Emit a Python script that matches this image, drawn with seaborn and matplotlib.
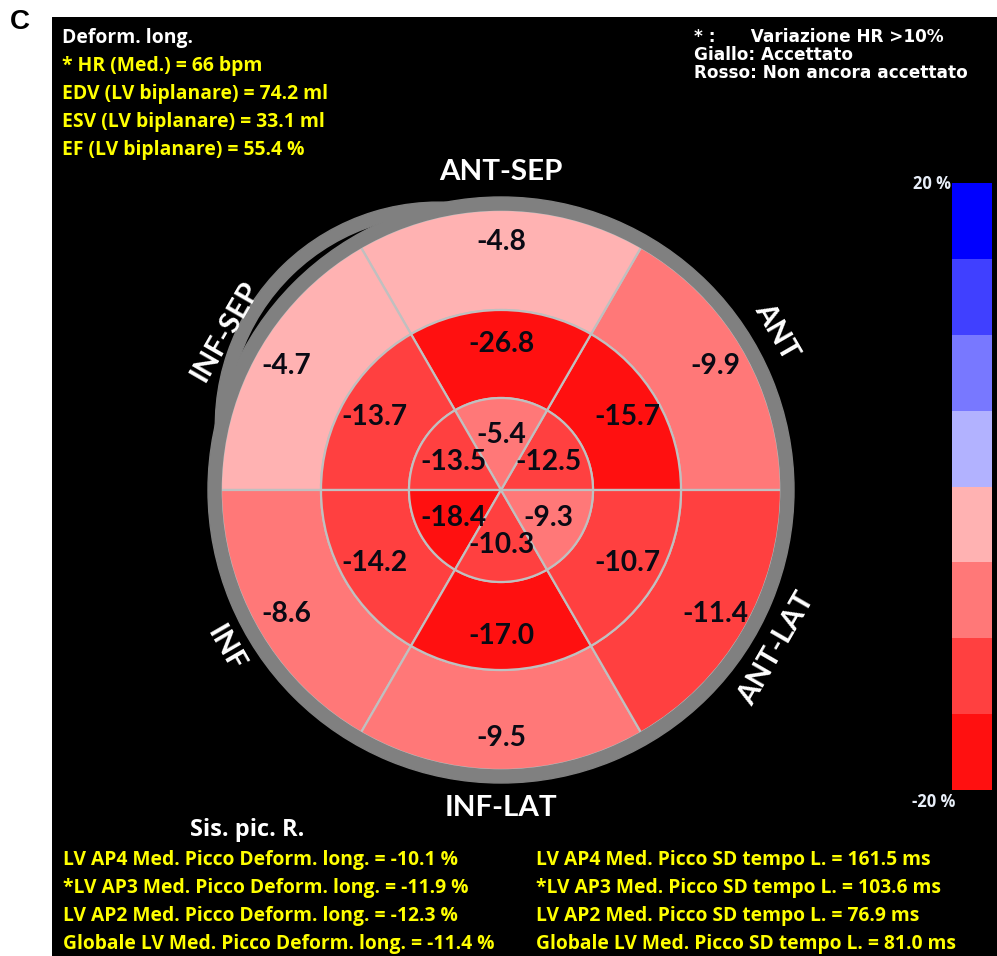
import numpy as np
import matplotlib.pyplot as plt
import seaborn as sns
from matplotlib.colors import ListedColormap, BoundaryNorm
from matplotlib.patches import Wedge

sns.set_theme(style="white")
plt.rcParams["font.family"] = ["Open Sans", "DejaVu Sans"]

# segment order: counter-clockwise starting at 3 o'clock
regions = ["ANT", "ANT-SEP", "INF-SEP", "INF", "INF-LAT", "ANT-LAT"]
basal = [-9.9, -4.8, -4.7, -8.6, -9.5, -11.4]
mid = [-15.7, -26.8, -13.7, -14.2, -17.0, -10.7]
apical = [-12.5, -5.4, -13.5, -18.4, -10.3, -9.3]

# strain colour scale (-20 % .. 20 %)
levels = [-20, -15, -10, -5, 0, 5, 10, 15, 20]
level_colors = ["#ff1010", "#ff4040", "#ff7878", "#ffb2b2",
                "#b2b2ff", "#7878ff", "#4040ff", "#0000ff"]

header = ["* HR (Med.) = 66 bpm", "EDV (LV biplanare) = 74.2 ml",
          "ESV (LV biplanare) = 33.1 ml", "EF (LV biplanare) = 55.4 %"]
legend_lines = ["* :      Variazione HR >10%", "Giallo: Accettato",
                "Rosso: Non ancora accettato"]
peak_strain = ["LV AP4 Med. Picco Deform. long. = -10.1 %",
               "*LV AP3 Med. Picco Deform. long. = -11.9 %",
               "LV AP2 Med. Picco Deform. long. = -12.3 %",
               "Globale LV Med. Picco Deform. long. = -11.4 %"]
peak_time = ["LV AP4 Med. Picco SD tempo L. = 161.5 ms",
             "*LV AP3 Med. Picco SD tempo L. = 103.6 ms",
             "LV AP2 Med. Picco SD tempo L. = 76.9 ms",
             "Globale LV Med. Picco SD tempo L. = 81.0 ms"]

cmap = ListedColormap(level_colors)
norm = BoundaryNorm(levels, cmap.N)

W, H = 997, 956
fig = plt.figure(figsize=(W / 100, H / 100), dpi=100)
fig.patch.set_facecolor("white")
renderer = fig.canvas.get_renderer()


def fit_size(s, width_px, **kw):
    # font size that makes text s about width_px pixels wide
    t = fig.text(0, 0, s, fontsize=10, **kw)
    w = t.get_window_extent(renderer).width
    t.remove()
    return 10 * width_px / w


# black panel, data units = pixels (y measured upward)
ax = fig.add_axes([52 / W, 0, (W - 52) / W, (H - 17) / H])
ax.set_facecolor("black")
ax.axis("off")
ax.add_patch(plt.Rectangle((52, 0), W - 52, H - 17, color="black", zorder=0))


def Y(py):
    return H - py


cx, cy = 501, Y(490)
ring_r = [280, 180, 92]
values = [basal, mid, apical]
grid = "#c0c0c0"

# gray outline crescent (upper left) and outer ring
ax.add_patch(Wedge((438.8, Y(425.6)), 223.5, 80, 188, width=13, color="#808080", zorder=1))
for r_out, r_in, vals in zip(ring_r, ring_r[1:] + [0], values):
    cols = [cmap(norm(max(min(v, 19.9), -19.9))) for v in vals]
    wedges, _ = ax.pie([1] * 6, radius=r_out, center=(cx, cy), colors=cols,
                       startangle=0, counterclock=True,
                       wedgeprops=dict(width=r_out - r_in, edgecolor=grid, linewidth=1.6))
    for w in wedges:
        w.set_zorder(2)
ax.add_patch(Wedge((cx, cy), 293, 0, 360, width=13, color="#808080", zorder=3))

ax.set_xlim(52, W)
ax.set_ylim(0, H - 17)
ax.set_aspect("auto")

mid_angles = np.deg2rad(np.arange(6) * 60 + 30)
label_r = [248, 146, 55]
val_kw = dict(family=["Lato", "DejaVu Sans"], fontweight="bold")
val_size = fit_size("-26.8", 66, **val_kw)
for r, vals in zip(label_r, values):
    for a, v in zip(mid_angles, vals):
        ax.text(cx + r * np.cos(a), cy + r * np.sin(a), f"{v:.1f}",
                ha="center", va="center", fontsize=val_size, color="#0a0a14",
                zorder=5, **val_kw)

reg_size = fit_size("ANT-SEP", 123, **val_kw)
for a, name in zip(mid_angles, regions):
    deg = np.rad2deg(a)
    rot = deg - 90 if np.sin(a) > 0 else deg + 90
    if abs(np.cos(a)) < 1e-6:
        rot = 0
    ax.text(cx + 318 * np.cos(a), cy + 318 * np.sin(a), name, ha="center", va="center",
            rotation=rot, rotation_mode="anchor", fontsize=reg_size, color="white",
            zorder=5, **val_kw)

# header text
hdr_size = fit_size(header[1], 267, fontweight="bold")
ax.text(62, Y(38), "Deform. long.", fontsize=hdr_size, fontweight="bold", color="white",
        va="center")
for i, s in enumerate(header):
    ax.text(62, Y(66 + 28 * i), s, fontsize=hdr_size, fontweight="bold", color="yellow",
            va="center")
leg_kw = dict(family=["DejaVu Sans"], fontweight="bold")
leg_size = fit_size(legend_lines[2], 274, **leg_kw)
for i, s in enumerate(legend_lines):
    ax.text(694, Y(37 + 18 * i), s, fontsize=leg_size, color="white",
            va="center", **leg_kw)

sis_size = fit_size("Sis. pic. R.", 114, fontweight="bold")
ax.text(190, Y(830), "Sis. pic. R.", fontsize=sis_size, fontweight="bold", color="white",
        va="center")
bot_size = fit_size(peak_strain[3], 432, fontweight="bold")
for i, (s1, s2) in enumerate(zip(peak_strain, peak_time)):
    ax.text(63, Y(860 + 28 * i), s1, fontsize=bot_size, fontweight="bold", color="yellow",
            va="center")
    ax.text(536, Y(860 + 28 * i), s2, fontsize=bot_size, fontweight="bold", color="yellow",
            va="center")

# colour bar drawn as a seaborn heatmap
cax = fig.add_axes([952 / W, 1 - 790 / H, 40 / W, (790 - 183) / H])
bar = np.array([(lo + hi) / 2 for lo, hi in zip(levels[:-1], levels[1:])])[::-1]
sns.heatmap(bar.reshape(-1, 1), cmap=cmap, norm=norm, cbar=False, ax=cax,
            xticklabels=False, yticklabels=False)
cax.axis("off")
cb_size = fit_size("20 %", 38, fontweight="bold")
ax.text(951, Y(184), "20 %", ha="right", va="center", fontsize=cb_size, fontweight="bold",
        color="#e8eef8")
ax.text(912, Y(802), "-20 %", ha="left", va="center", fontsize=cb_size, fontweight="bold",
        color="#e8eef8")

fig.text(10 / W, 1 - 22 / H, "C", fontsize=20, fontweight="bold", color="black",
         family="Liberation Sans", va="center")

fig.savefig("out.png", dpi=100, facecolor="white")
